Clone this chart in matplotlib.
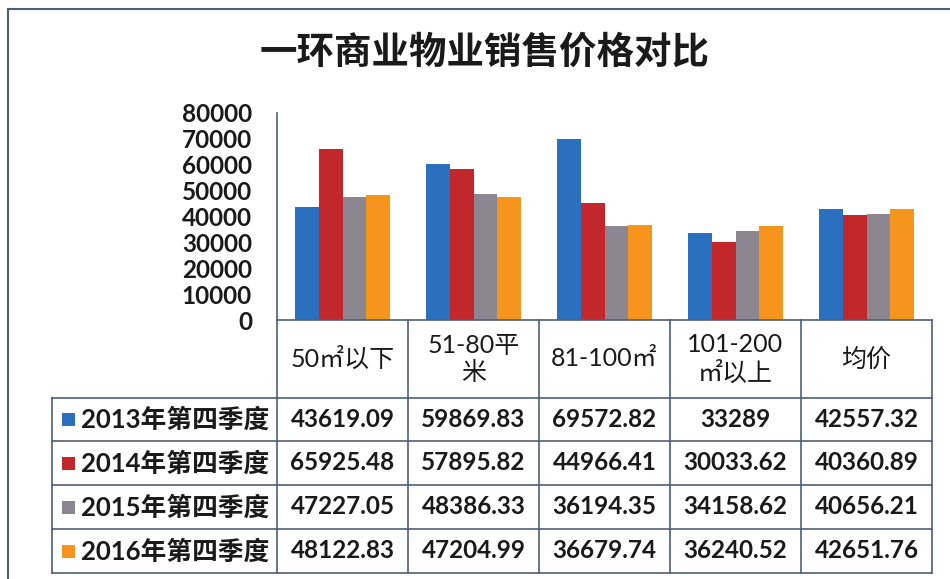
import matplotlib
matplotlib.use("Agg")
import matplotlib.pyplot as plt
from matplotlib.patches import Rectangle
from matplotlib.lines import Line2D

plt.rcParams['font.family'] = ['Lato', 'Noto Sans CJK SC', 'DejaVu Sans']

title = "一环商业物业销售价格对比"
categories = ["50㎡以下", "51-80平\n米", "81-100㎡", "101-200\n㎡以上", "均价"]
series_names = ["2013年第四季度", "2014年第四季度", "2015年第四季度", "2016年第四季度"]
v2013 = [43619.09, 59869.83, 69572.82, 33289, 42557.32]
v2014 = [65925.48, 57895.82, 44966.41, 30033.62, 40360.89]
v2015 = [47227.05, 48386.33, 36194.35, 34158.62, 40656.21]
v2016 = [48122.83, 47204.99, 36679.74, 36240.52, 42651.76]
labels2013 = ["43619.09", "59869.83", "69572.82", "33289", "42557.32"]
labels2014 = ["65925.48", "57895.82", "44966.41", "30033.62", "40360.89"]
labels2015 = ["47227.05", "48386.33", "36194.35", "34158.62", "40656.21"]
labels2016 = ["48122.83", "47204.99", "36679.74", "36240.52", "42651.76"]
yticks = [0, 10000, 20000, 30000, 40000, 50000, 60000, 70000, 80000]
colors = ["#2b70bf", "#c1272b", "#8c8690", "#f5951d"]

series = [v2013, v2014, v2015, v2016]
series_labels = [labels2013, labels2014, labels2015, labels2016]

W, H = 950, 579
fig = plt.figure(figsize=(9.5, 5.79), dpi=100)
fig.patch.set_facecolor("white")

x0, x1 = 277, 932
y0, y1 = 320, 112
ax = fig.add_axes([x0 / W, 1 - y0 / H, (x1 - x0) / W, (y0 - y1) / H])
ax.set_xlim(-0.5, len(categories) - 0.5)
ax.set_ylim(0, 80000)

bw = 0.183
n = len(series)
for i, (vals, c) in enumerate(zip(series, colors)):
    xs = [k + (i - (n - 1) / 2) * bw for k in range(len(categories))]
    ax.bar(xs, vals, width=bw, color=c, linewidth=0, zorder=2)

for s in ["top", "right", "bottom", "left"]:
    ax.spines[s].set_visible(False)
ax.set_xticks([])
ax.set_yticks(yticks)
ax.set_yticklabels([str(t) for t in yticks], fontsize=17.5, fontweight="bold", color="#1a1a1a")
ax.tick_params(axis="y", length=0, pad=18)

lc = "#4f5d75"
lw = 1.2
tr = ax.get_xaxis_transform()
ph = y0 - y1


def fy(py):
    return (y0 - py) / ph


col_px = (x1 - x0) / len(categories)
legend_left = -0.5 - (x0 - 52) / col_px
rows = [398, 441, 485, 529, 573]

ax.add_line(Line2D([-0.5, -0.5], [fy(113), fy(573)], transform=tr, color=lc, lw=lw, clip_on=False))
ax.add_line(Line2D([-0.5, len(categories) - 0.5], [0, 0], transform=tr, color=lc, lw=lw, clip_on=False))
for k in range(1, len(categories) + 1):
    xk = k - 0.5
    ax.add_line(Line2D([xk, xk], [fy(320), fy(573)], transform=tr, color=lc, lw=lw, clip_on=False))
for r in rows:
    ax.add_line(Line2D([legend_left, len(categories) - 0.5], [fy(r), fy(r)], transform=tr,
                       color=lc, lw=lw, clip_on=False))
ax.add_line(Line2D([legend_left, legend_left], [fy(398), fy(573)], transform=tr, color=lc, lw=lw, clip_on=False))

for k, cat in enumerate(categories):
    ax.text(k, fy((320 + 398) / 2), cat, transform=tr, ha="center", va="center",
            fontsize=18, color="#1a1a1a", linespacing=1.2,
            family=['Lato', 'Noto Sans CJK SC'])

for i, (name, labs, c) in enumerate(zip(series_names, series_labels, colors)):
    ym = fy((rows[i] + rows[i + 1]) / 2)
    sq = 13 / col_px
    ax.add_patch(Rectangle((legend_left + 10 / col_px, ym - 6.5 / ph), sq, 13 / ph,
                           transform=tr, color=c, clip_on=False, lw=0))
    ax.text(legend_left + 29 / col_px, ym, name, transform=tr, ha="left", va="center",
            fontsize=18.5, fontweight="bold", color="#1a1a1a",
            family=['Lato', 'Noto Sans CJK SC'])
    for k, lab in enumerate(labs):
        ax.text(k, ym, lab, transform=tr, ha="center", va="center",
                fontsize=17.5, fontweight="bold", color="#1a1a1a")

fig.text(485 / W, 1 - 52 / H, title, ha="center", va="center", fontsize=27,
         fontweight="bold", color="#1a1a1a", family=['Noto Sans CJK SC'])

fig.add_artist(Line2D([8 / W, 8 / W], [0, 1 - 9 / H], color=lc, lw=1.5))
fig.add_artist(Line2D([8 / W, 1], [1 - 9 / H, 1 - 9 / H], color=lc, lw=1.5))

fig.savefig("out.png", dpi=100, facecolor="white")
